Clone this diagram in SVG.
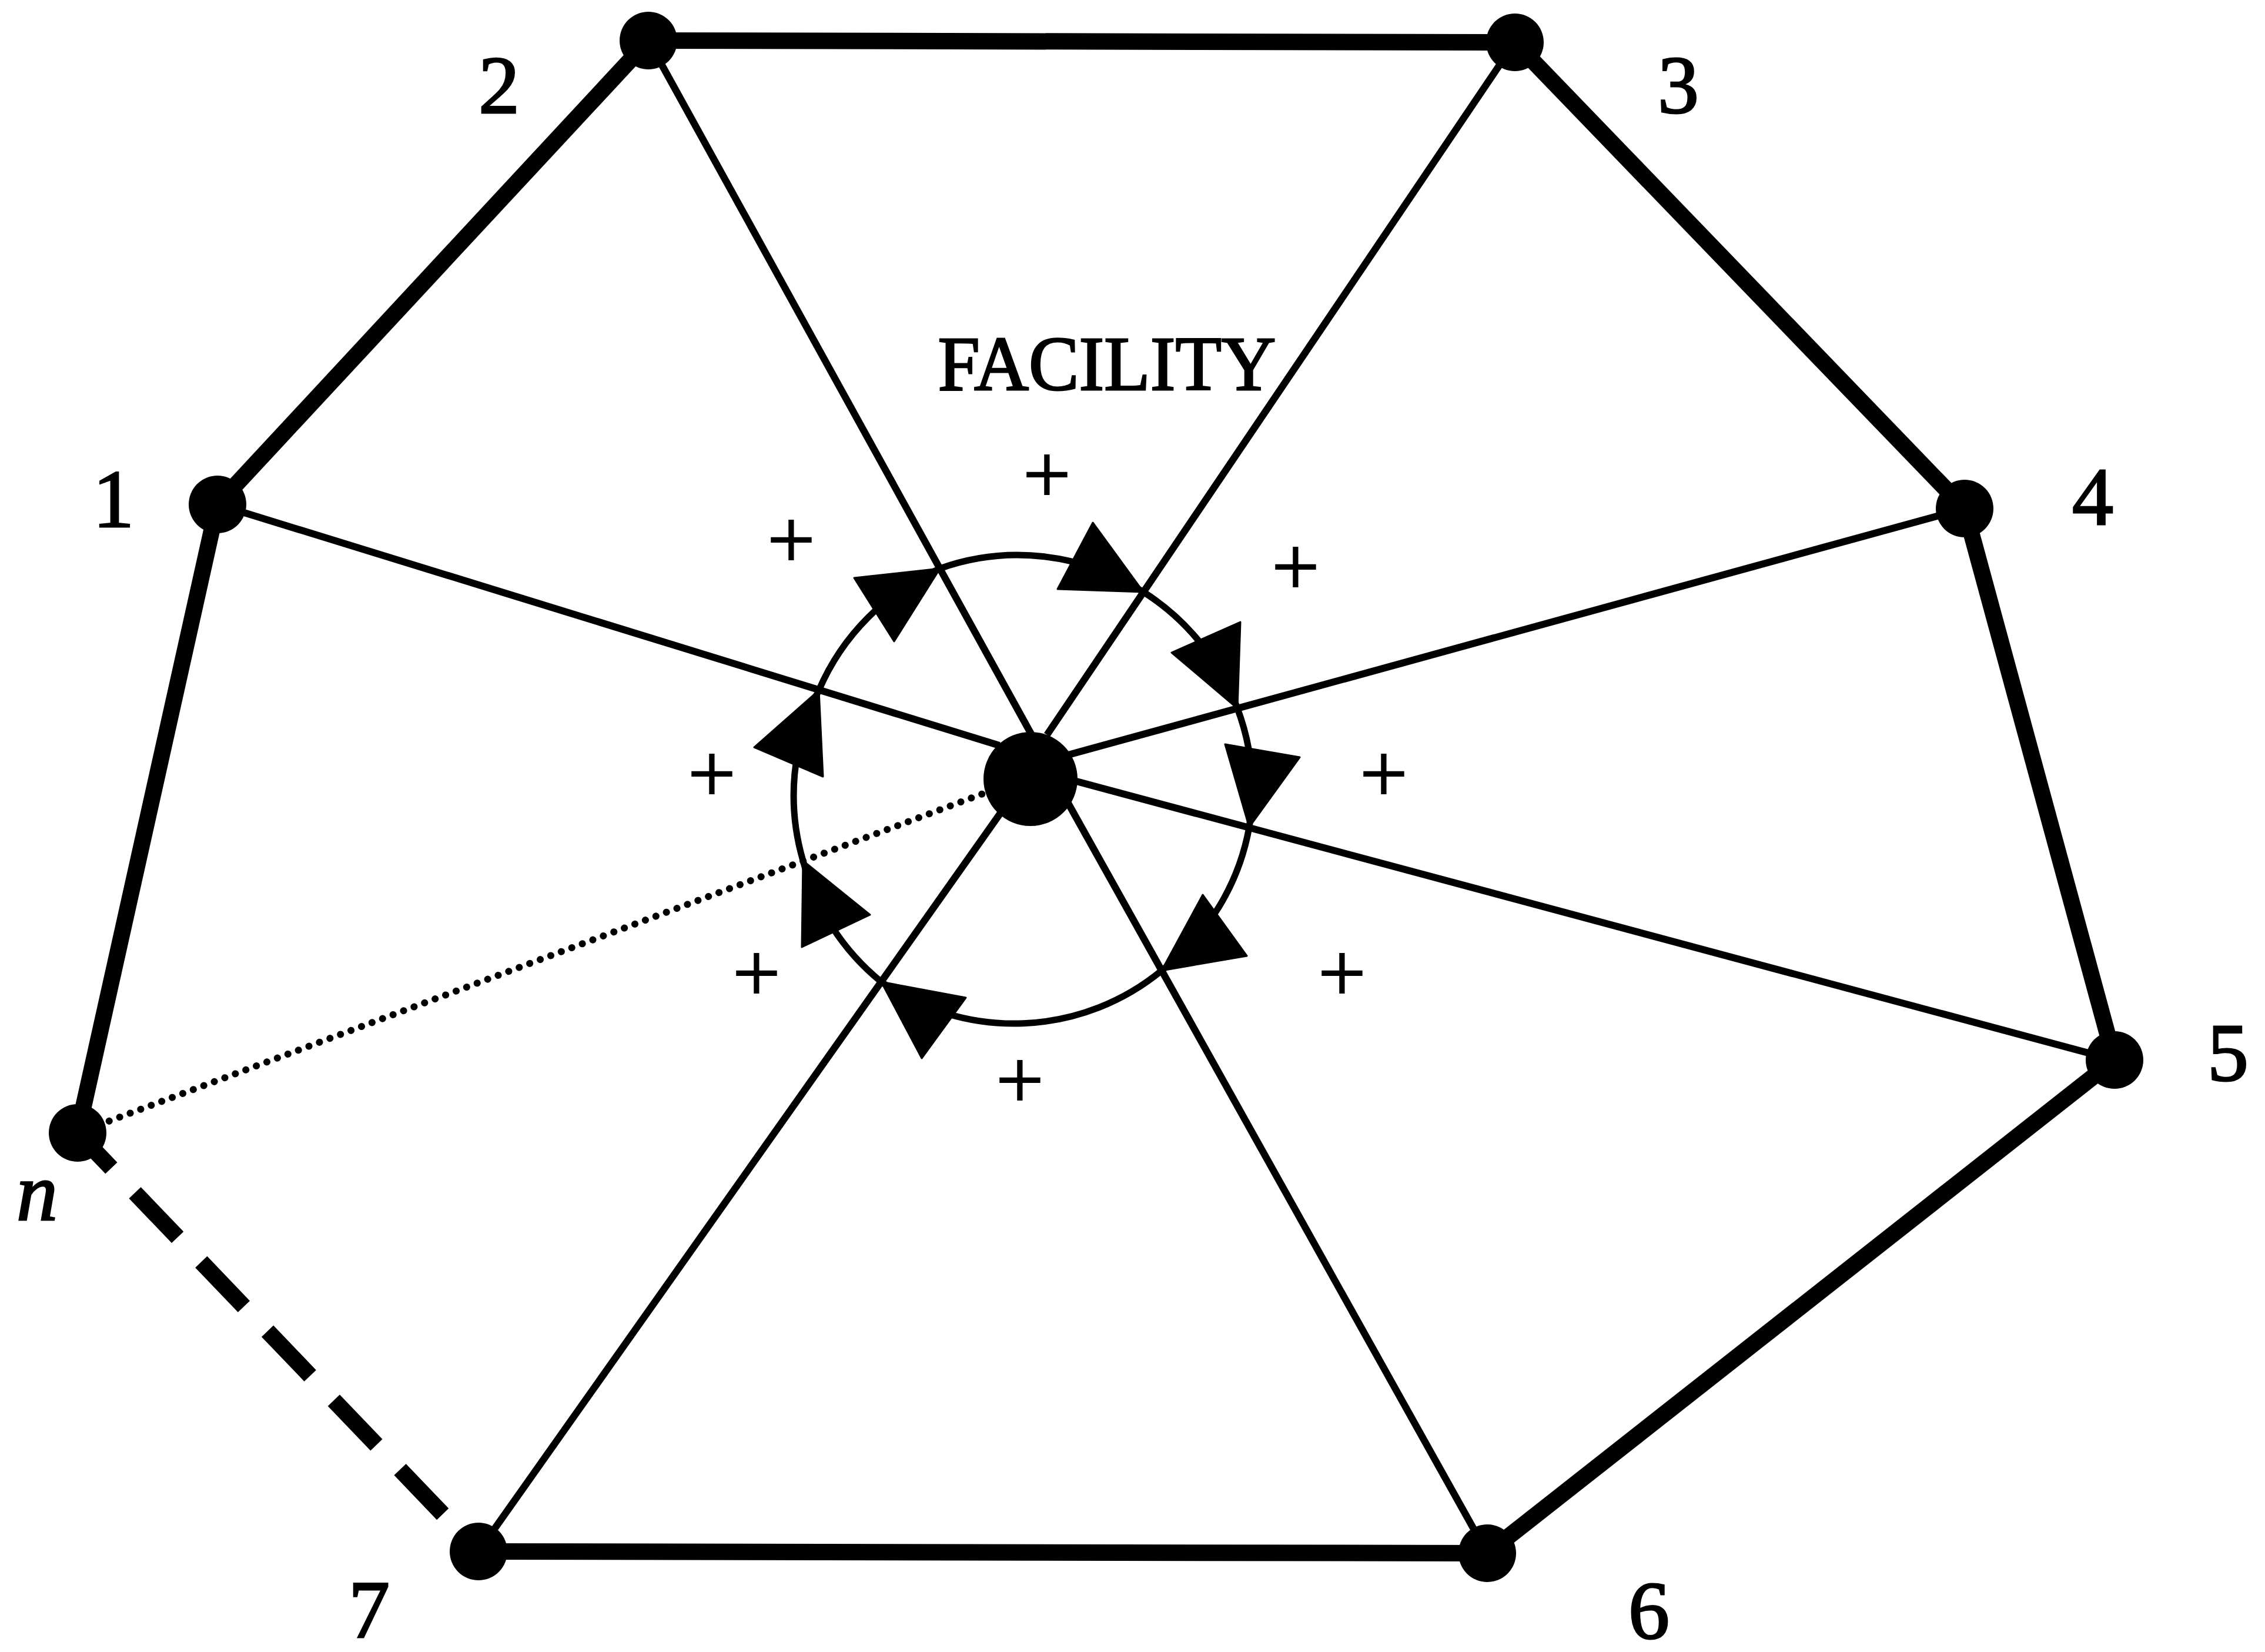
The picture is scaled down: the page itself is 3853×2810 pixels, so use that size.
<svg xmlns="http://www.w3.org/2000/svg" width="3853" height="2810" viewBox="0 0 3853 2810">
<style>
.thick{stroke:#000;stroke-width:28;fill:none}
.dash{stroke:#000;stroke-width:28;fill:none;stroke-dasharray:105 58;stroke-dashoffset:22}
.spoke{stroke:#000;stroke-width:12;fill:none}
.dotted{stroke:#000;stroke-width:12;fill:none;stroke-dasharray:0.1 19;stroke-linecap:round}
.ring{stroke:#000;stroke-width:11;fill:none}
.arrow{fill:#000;stroke:#000;stroke-width:3;stroke-linejoin:round}
.node{fill:#000}
.lbl{font-family:"Liberation Serif","Times New Roman",serif;font-size:140px;fill:#000;stroke:#000;stroke-width:3;text-anchor:middle}
.plus{font-family:"Liberation Serif","Times New Roman",serif;font-size:145px;fill:#000;stroke:#000;stroke-width:2;text-anchor:middle}
</style>
<rect width="3853" height="2810" fill="#fff"/>
<g id="connectors">
  <line class="thick" x1="370" y1="858" x2="1103" y2="69"/>
  <line class="thick" x1="1103" y1="69" x2="2577" y2="72"/>
  <line class="thick" x1="2577" y1="72" x2="3342" y2="865"/>
  <line class="thick" x1="3342" y1="865" x2="3597" y2="1803"/>
  <line class="thick" x1="3597" y1="1803" x2="2530" y2="2642"/>
  <line class="thick" x1="2530" y1="2642" x2="814" y2="2639"/>
  <line class="dash" x1="132" y1="1927" x2="814" y2="2639"/>
  <line class="thick" x1="132" y1="1927" x2="370" y2="858"/>
  <line class="spoke" x1="370" y1="858" x2="1700" y2="1268"/>
  <line class="spoke" x1="1103" y1="69" x2="1755" y2="1250"/>
  <line class="spoke" x1="2577" y1="72" x2="1781" y2="1250"/>
  <line class="spoke" x1="3342" y1="865" x2="1810" y2="1286"/>
  <line class="spoke" x1="3597" y1="1803" x2="1820" y2="1326"/>
  <line class="spoke" x1="2530" y1="2642" x2="1808" y2="1350"/>
  <line class="spoke" x1="814" y1="2639" x2="1704" y2="1380"/>
  <line class="dotted" x1="132" y1="1927" x2="1680" y2="1347"/>
  <path class="ring" d="M1599 967 A395 395 0 0 1 1945 1007 A395 395 0 0 1 2105 1205 A395 395 0 0 1 2125 1407 A395 395 0 0 1 1976 1651 A395 395 0 0 1 1499 1670 A395 395 0 0 1 1366 1464 A395 395 0 0 1 1393 1174 A395 395 0 0 1 1599 967 Z"/>
  <polygon class="arrow" points="1393,1174 1400,1321 1283,1271"/>
  <polygon class="arrow" points="1599,967 1521,1091 1453,983"/>
  <polygon class="arrow" points="1945,1007 1799,1002 1859,889"/>
  <polygon class="arrow" points="2105,1205 1993,1110 2110,1058"/>
  <polygon class="arrow" points="2125,1407 2084,1266 2211,1288"/>
  <polygon class="arrow" points="1976,1651 2046,1522 2121,1626"/>
  <polygon class="arrow" points="1499,1670 1643,1697 1568,1800"/>
  <polygon class="arrow" points="1366,1464 1480,1556 1364,1611"/>
</g>
<g id="facility">
  <circle class="node" cx="1753" cy="1325" r="80"/>
  <text x="1883" y="663" font-family="Liberation Serif, Times New Roman, serif" font-size="132" stroke="#000" stroke-width="3" text-anchor="middle" textLength="575" lengthAdjust="spacingAndGlyphs">FACILITY</text>
</g>
<g id="node1"><circle class="node" cx="370" cy="858" r="49"/><text class="lbl" x="193" y="896">1</text></g>
<g id="node2"><circle class="node" cx="1103" cy="69" r="49"/><text class="lbl" x="849" y="192">2</text></g>
<g id="node3"><circle class="node" cx="2577" cy="72" r="49"/><text class="lbl" x="2855" y="192">3</text></g>
<g id="node4"><circle class="node" cx="3342" cy="865" r="49"/><text class="lbl" x="3560" y="892">4</text></g>
<g id="node5"><circle class="node" cx="3597" cy="1803" r="49"/><text class="lbl" x="3790" y="1838">5</text></g>
<g id="node6"><circle class="node" cx="2530" cy="2642" r="49"/><text class="lbl" x="2805" y="2787">6</text></g>
<g id="node7"><circle class="node" cx="814" cy="2639" r="49"/><text class="lbl" x="628" y="2785">7</text></g>
<g id="noden"><circle class="node" cx="132" cy="1927" r="49"/><text class="lbl" x="63" y="2075" font-style="italic" font-size="150">n</text></g>
<g id="signs">
  <text class="plus" x="1781" y="855">+</text>
  <text class="plus" x="1346" y="966">+</text>
  <text class="plus" x="2204" y="1012">+</text>
  <text class="plus" x="1211" y="1364">+</text>
  <text class="plus" x="2354" y="1364">+</text>
  <text class="plus" x="1287" y="1703">+</text>
  <text class="plus" x="2283" y="1703">+</text>
  <text class="plus" x="1735" y="1885">+</text>
</g>
</svg>
